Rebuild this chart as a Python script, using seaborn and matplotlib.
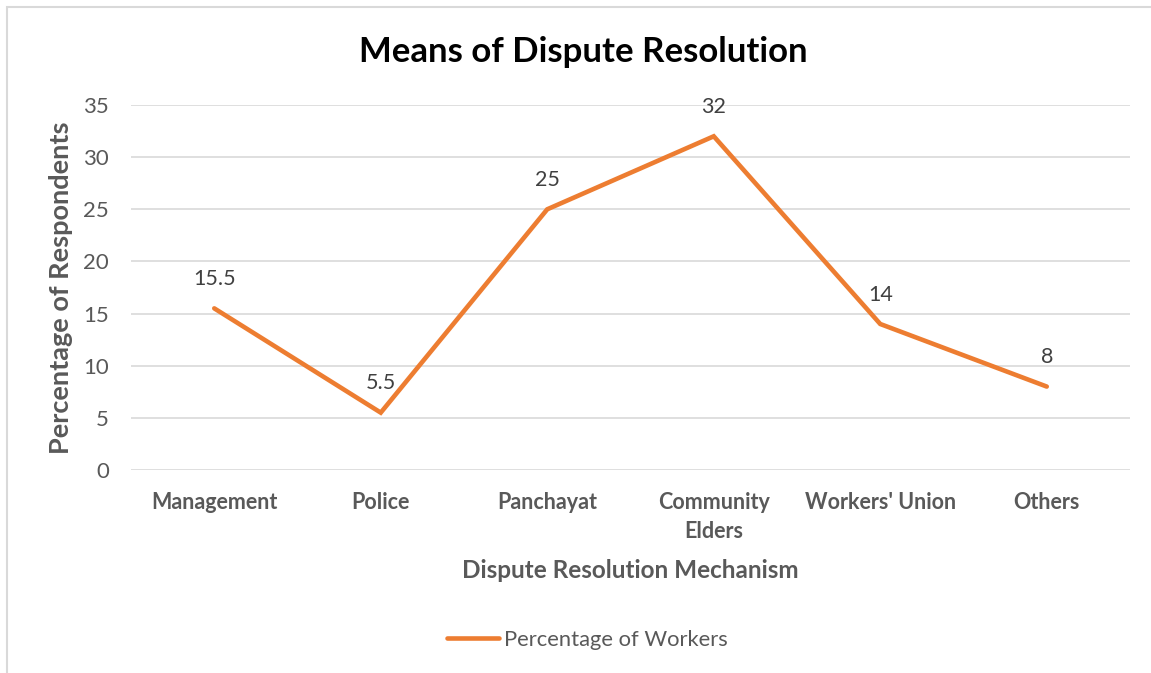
import matplotlib
matplotlib.use("Agg")
import matplotlib.pyplot as plt
from matplotlib.patches import Rectangle
from matplotlib.lines import Line2D
import numpy as np
import pandas as pd
import seaborn as sns

categories = ["Management", "Police", "Panchayat", "Community Elders", "Workers' Union", "Others"]
tick_labels = ["Management", "Police", "Panchayat", "Community\nElders", "Workers' Union", "Others"]
percentages = [15.5, 5.5, 25, 32, 14, 8]
y_ticks = [0, 5, 10, 15, 20, 25, 30, 35]

sns.set_theme(style="white")
plt.rcParams["font.family"] = ["Lato", "DejaVu Sans"]

W, H = 1151, 673
fig = plt.figure(figsize=(W / 100, H / 100), dpi=100)
ax = fig.add_axes([131 / W, (H - 470) / H, 999 / W, 365 / H])

df = pd.DataFrame({"pos": np.arange(len(categories)), "value": percentages})
orange = "#ED7D31"
grey = "#595959"

sns.lineplot(data=df, x="pos", y="value", ax=ax, color=orange, linewidth=3.3,
             solid_capstyle="round", solid_joinstyle="miter", legend=False)

ax.set_xlim(-0.5, len(categories) - 0.5)
ax.set_ylim(0, 35)
ax.set_yticks(y_ticks)
ax.set_yticklabels([str(t) for t in y_ticks], fontsize=16, color=grey)
ax.set_xticks(df["pos"])
ax.set_xticklabels(tick_labels, fontsize=15.5, fontweight="bold", color=grey,
                   linespacing=1.45, va="top")
ax.tick_params(axis="both", length=0)
ax.tick_params(axis="y", pad=16)
ax.tick_params(axis="x", pad=16)
ax.grid(axis="y", color="#d9d9d9", linewidth=1.2)
ax.grid(axis="x", visible=False)
for s in ax.spines.values():
    s.set_visible(False)
ax.set_axisbelow(True)

for x, v in zip(df["pos"], percentages):
    ax.annotate(f"{v:g}", (x, v), xytext=(0, 14), textcoords="offset points",
                ha="center", va="bottom", fontsize=15.5, color="#404040")

ax.set_xlabel("Dispute Resolution Mechanism", fontsize=17.5, fontweight="bold",
              color=grey, va="center")
ax.xaxis.set_label_coords(0.5, (470 - 570) / 365)
ax.set_ylabel("Percentage of Respondents", fontsize=19.5, fontweight="bold",
              color=grey, va="center")
ax.yaxis.set_label_coords((61 - 131) / 999, 0.5)

fig.text(583 / W, 1 - 52 / H, "Means of Dispute Resolution", ha="center", va="center",
         fontsize=25, fontweight="bold", color="black")

handle = Line2D([], [], color=orange, linewidth=3.3, solid_capstyle="round")
fig.legend([handle], ["Percentage of Workers"], loc="center", bbox_to_anchor=(587 / W, 1 - 640 / H),
           frameon=False, fontsize=15.8, handlelength=2.4, handletextpad=0.2,
           labelcolor=grey)

fig.patches.append(Rectangle((7 / W, -0.2), 2, 1.2 - 7 / H, transform=fig.transFigure,
                             fill=False, edgecolor="#d9d9d9", linewidth=1.5))

fig.savefig("out.png", dpi=100)
